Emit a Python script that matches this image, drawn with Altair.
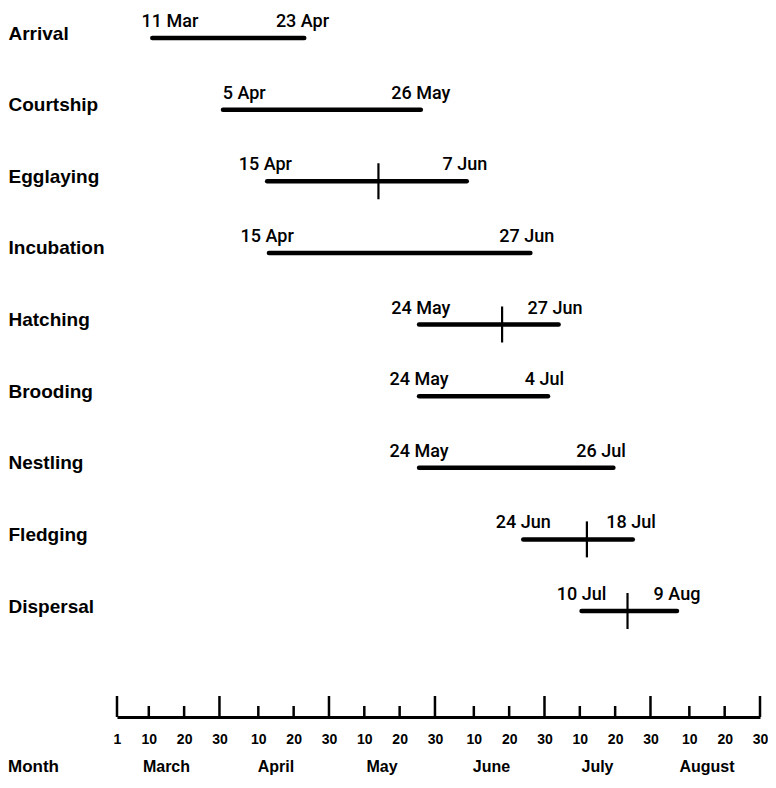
import altair as alt
import pandas as pd

# ---- data ----
stages = ["Arrival", "Courtship", "Egglaying", "Incubation", "Hatching",
          "Brooding", "Nestling", "Fledging", "Dispersal"]
start_labels = ["11 Mar", "5 Apr", "15 Apr", "15 Apr", "24 May",
                "24 May", "24 May", "24 Jun", "10 Jul"]
end_labels = ["23 Apr", "26 May", "7 Jun", "27 Jun", "27 Jun",
              "4 Jul", "26 Jul", "18 Jul", "9 Aug"]
bar_start = [70, 90, 102.5, 103, 145.5, 145.5, 145.5, 175, 191.5]
bar_end = [113, 146, 159, 177, 185, 182, 200.5, 206, 218.5]
# cross mark (peak) positions, day of year
cross_day = [None, None, 134, None, 169, None, None, 193, 204.5]
# where the date labels sit (day of year of label centre)
start_label_day = [75, 96, 102, 102.5, 146, 145.5, 145.5, 175, 191.5]
end_label_day = [112.5, 146, 158.5, 176, 184, 181, 197, 205.5, 218.5]

major_tick_dates = ["2001-03-01", "2001-03-30", "2001-04-30", "2001-05-30",
                    "2001-06-30", "2001-07-30", "2001-08-30"]
minor_tick_dates = ["2001-03-10", "2001-03-20", "2001-04-10", "2001-04-20",
                    "2001-05-10", "2001-05-20", "2001-06-10", "2001-06-20",
                    "2001-07-10", "2001-07-20", "2001-08-10", "2001-08-20"]
months = ["March", "April", "May", "June", "July", "August"]
month_mid_dates = ["2001-03-15", "2001-04-15", "2001-05-15",
                   "2001-06-15", "2001-07-15", "2001-08-15"]

# ---- tables ----
def doy(lst):
    return [pd.Timestamp(s).dayofyear for s in lst]

df = pd.DataFrame({
    "stage": stages, "start": bar_start, "end": bar_end, "cross": cross_day,
    "slab": start_labels, "elab": end_labels,
    "slab_x": start_label_day, "elab_x": end_label_day,
})
major_df = pd.DataFrame({"day": doy(major_tick_dates)})
minor_df = pd.DataFrame({"day": doy(minor_tick_dates)})
month_df = pd.DataFrame({"month": months, "day": doy(month_mid_dates)})
all_ticks = sorted(doy(major_tick_dates) + doy(minor_tick_dates))

W, H = 643, 709
FONT = "Liberation Sans"
DFONT = "Roboto"

xscale = alt.Scale(domain=[60, 242], nice=False, zero=False)
xaxis = alt.Axis(values=all_ticks,
                 labelExpr="date(datetime(2001, 0, datum.value))",
                 ticks=False, tickSize=0, grid=False, title=None,
                 domain=True, domainWidth=3, domainColor="black",
                 labelFont=FONT, labelFontSize=14, labelFontWeight="bold",
                 labelColor="black", labelPadding=22, labelBaseline="middle",
                 labelFlush=False, labelOverlap=False)
yscale = alt.Scale(type="point", domain=stages, range=[30, 603], padding=0)
yaxis = alt.Axis(title=None, domain=False, ticks=False, tickSize=0, grid=False,
                 labelAlign="left", labelPadding=109, labelFont=FONT,
                 labelFontSize=19, labelFontWeight="bold", labelColor="black",
                 labelBaseline="middle", labelOffset=-5, labelLimit=300)

Y = alt.Y("stage:N", scale=yscale, axis=yaxis, sort=stages)

bars = alt.Chart(df).mark_rule(strokeWidth=4.5, strokeCap="round", color="black").encode(
    x=alt.X("start:Q", scale=xscale, axis=xaxis), x2="end:Q", y=Y)

crosses = alt.Chart(df).transform_filter("isValid(datum.cross)").mark_tick(
    size=36, thickness=2.2, color="black", opacity=1).encode(
    x=alt.X("cross:Q", scale=xscale, axis=xaxis), y=Y)

slabels = alt.Chart(df).mark_text(align="center", baseline="alphabetic", dy=-11,
                                  font=DFONT, fontSize=18, fontWeight=500,
                                  color="black").encode(
    x=alt.X("slab_x:Q", scale=xscale, axis=xaxis), y=Y, text="slab:N")
elabels = alt.Chart(df).mark_text(align="center", baseline="alphabetic", dy=-11,
                                  font=DFONT, fontSize=18, fontWeight=500,
                                  color="black").encode(
    x=alt.X("elab_x:Q", scale=xscale, axis=xaxis), y=Y, text="elab:N")

major = alt.Chart(major_df).mark_rule(strokeWidth=2.5, color="black").encode(
    x=alt.X("day:Q", scale=xscale, axis=xaxis), y=alt.value(H), y2=alt.value(H - 21))
minor = alt.Chart(minor_df).mark_rule(strokeWidth=2.5, color="black").encode(
    x=alt.X("day:Q", scale=xscale, axis=xaxis), y=alt.value(H), y2=alt.value(H - 11))

month_text = alt.Chart(month_df).mark_text(align="center", baseline="middle",
                                           font=FONT, fontSize=16, fontWeight="bold",
                                           color="black").encode(
    x=alt.X("day:Q", scale=xscale, axis=xaxis), y=alt.value(H + 50), text="month:N")

month_title = alt.Chart(pd.DataFrame({"t": ["Month"]})).mark_text(
    align="left", baseline="middle", font=FONT, fontSize=17, fontWeight="bold",
    color="black").encode(x=alt.value(-109), y=alt.value(H + 50), text="t:N")

chart = alt.layer(bars, crosses, slabels, elabels, major, minor, month_text, month_title).properties(
    width=W, height=H,
    autosize=alt.AutoSizeParams(type="none"),
    padding={"left": 109, "top": 0, "right": 8, "bottom": 61},
    background="white",
).configure_view(stroke=None)

chart.save("out.html", embed_options={"renderer": "svg", "actions": False})
